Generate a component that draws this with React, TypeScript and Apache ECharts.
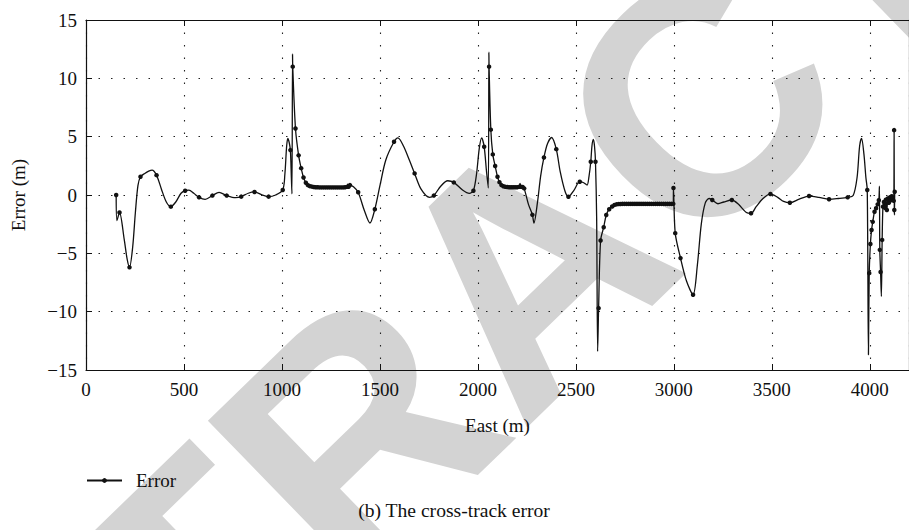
import React, { useEffect, useRef } from "react";
import * as echarts from "echarts";

const xTicks = [0, 500, 1000, 1500, 2000, 2500, 3000, 3500, 4000];
const yTicks = [-15, -10, -5, 0, 5, 10, 15];
const seriesName = "Error";
const xAxisTitle = "East (m)";
const yAxisTitle = "Error (m)";
const caption = "(b) The cross-track error";
const watermark = "RETRACTED";

// East position (m)
const east = [
  154, 158, 171, 195, 210, 222, 238, 252, 265, 278, 300, 320, 337, 360, 385, 410, 433, 458, 485, 506,
  525, 550, 577, 608, 645, 679, 718, 763, 792, 828, 860, 898, 932, 968, 1004, 1015, 1024, 1030, 1037, 1043,
  1048, 1051, 1054, 1055, 1069, 1085, 1098, 1110, 1122, 1132, 1142, 1152, 1162, 1172, 1182, 1192, 1202, 1212, 1222, 1232,
  1242, 1252, 1262, 1272, 1282, 1292, 1302, 1312, 1322, 1332, 1336, 1340, 1347, 1365, 1389, 1420, 1449, 1474, 1500, 1530,
  1572, 1592, 1620, 1650, 1677, 1710, 1753, 1775, 1810, 1846, 1877, 1920, 1956, 1977, 1993, 2007, 2019, 2032, 2044, 2053,
  2056, 2057, 2066, 2076, 2088, 2100, 2110, 2120, 2130, 2140, 2150, 2160, 2170, 2180, 2190, 2200, 2210, 2215, 2220, 2228,
  2236, 2258, 2278, 2286, 2305, 2320, 2337, 2355, 2376, 2400, 2420, 2445, 2462, 2490, 2520, 2540, 2557, 2567, 2576, 2582,
  2589, 2595, 2600, 2606, 2611, 2616, 2626, 2642, 2655, 2670, 2685, 2697, 2707, 2717, 2727, 2737, 2747, 2757, 2767, 2777,
  2787, 2797, 2807, 2817, 2827, 2837, 2847, 2857, 2867, 2877, 2887, 2897, 2907, 2917, 2927, 2937, 2947, 2957, 2967, 2977,
  2987, 2997, 2998, 3007, 3034, 3065, 3098, 3120, 3140, 3160, 3180, 3196, 3225, 3255, 3296, 3330, 3370, 3394, 3420, 3455,
  3493, 3530, 3560, 3592, 3640, 3690, 3740, 3792, 3840, 3887, 3915, 3935, 3948, 3958, 3970, 3980, 3987, 3993, 3997, 4003,
  4009, 4015, 4024, 4032, 4040, 4046, 4049, 4051, 4055, 4059, 4063, 4067, 4072, 4077, 4082, 4087, 4092, 4097, 4102, 4107,
  4112, 4117, 4122, 4124, 4125, 4126, 4127,
];

// Cross-track error (m)
const error = [
  0.0, -2.2, -1.5, -3.8, -5.5, -6.2, -4.5, -1.5, 0.8, 1.56, 1.85, 2.05, 2.14, 1.7, 0.5, -0.6, -1.0, -0.6, 0.15, 0.37,
  0.42, 0.15, -0.2, -0.37, -0.05, 0.23, -0.05, -0.23, -0.14, 0.15, 0.26, 0.02, -0.14, 0.0, 0.43, 1.8, 4.2, 4.85, 4.5, 3.85,
  1.5, 0.1, 12.1, 11.0, 5.7, 3.4, 2.3, 1.5, 1.05, 0.85, 0.76, 0.72, 0.69, 0.67, 0.66, 0.65, 0.65, 0.65, 0.65, 0.65,
  0.65, 0.65, 0.65, 0.65, 0.65, 0.65, 0.65, 0.65, 0.66, 0.7, 0.92, 0.7, 0.85, 0.7, 0.23, -1.3, -2.4, -1.22, 0.8, 3.0,
  4.56, 4.9, 4.2, 3.0, 1.85, 0.5, -0.2, -0.05, 0.75, 1.22, 1.08, 0.45, 0.14, 0.37, 1.8, 4.0, 4.9, 4.13, 2.0, 0.6,
  12.25, 11.0, 5.6, 3.48, 2.48, 1.56, 1.1, 0.85, 0.75, 0.7, 0.68, 0.67, 0.66, 0.66, 0.66, 0.66, 0.7, 1.0, 0.7, 0.68,
  0.57, -0.8, -1.7, -2.4, -0.5, 1.6, 3.22, 4.4, 4.93, 3.93, 2.0, 0.3, -0.15, 0.4, 1.14, 1.05, 0.85, 1.6, 2.85, 4.2,
  4.76, 4.2, 2.85, -2.0, -13.4, -9.7, -3.9, -2.76, -1.71, -1.22, -0.98, -0.85, -0.8, -0.78, -0.77, -0.76, -0.76, -0.76, -0.76, -0.76,
  -0.76, -0.76, -0.76, -0.76, -0.76, -0.76, -0.76, -0.76, -0.76, -0.76, -0.76, -0.76, -0.76, -0.76, -0.76, -0.76, -0.76, -0.76, -0.76, -0.76,
  -0.76, -0.76, 0.6, -3.27, -5.41, -7.4, -8.55, -6.0, -2.5, -0.7, -0.3, -0.43, -0.75, -0.6, -0.43, -0.8, -1.5, -1.57, -1.0, -0.3,
  0.09, -0.2, -0.55, -0.66, -0.35, -0.09, -0.2, -0.37, -0.3, -0.2, -0.05, 1.5, 4.2, 4.85, 3.5, 1.5, 0.43, -13.7, -6.7, -4.2,
  -3.0, -2.3, -1.43, -1.14, -0.8, -0.45, 0.75, -4.7, -6.6, -8.7, -3.85, -1.0, -0.6, -1.1, -0.4, -1.28, -0.3, -0.66, -0.2, -0.45,
  -0.1, -0.3, -0.5, 5.56, -1.28, -1.7, 0.28,
];

// 1 = a marker is drawn at this sample
const marked = [
  1, 0, 1, 0, 0, 1, 0, 0, 0, 1, 0, 0, 0, 1, 0, 0, 1, 0, 0, 1,
  0, 0, 1, 0, 1, 0, 1, 0, 1, 0, 1, 0, 1, 0, 1, 0, 0, 0, 0, 1,
  0, 0, 0, 1, 1, 1, 1, 1, 1, 1, 1, 1, 1, 1, 1, 1, 1, 1, 1, 1,
  1, 1, 1, 1, 1, 1, 1, 1, 1, 1, 0, 1, 1, 0, 1, 0, 0, 1, 0, 0,
  1, 0, 0, 0, 1, 0, 0, 1, 0, 0, 1, 0, 0, 1, 0, 0, 0, 1, 0, 0,
  0, 1, 1, 1, 1, 1, 1, 1, 1, 1, 1, 1, 1, 1, 1, 1, 1, 0, 1, 1,
  1, 0, 1, 0, 0, 0, 1, 0, 0, 1, 0, 0, 1, 0, 1, 0, 0, 0, 1, 0,
  0, 0, 1, 0, 0, 1, 1, 1, 1, 1, 1, 1, 1, 1, 1, 1, 1, 1, 1, 1,
  1, 1, 1, 1, 1, 1, 1, 1, 1, 1, 1, 1, 1, 1, 1, 1, 1, 1, 1, 1,
  1, 1, 1, 1, 1, 0, 1, 0, 0, 0, 0, 1, 0, 0, 1, 0, 0, 1, 0, 0,
  1, 0, 0, 1, 0, 1, 0, 1, 0, 1, 0, 0, 0, 0, 0, 0, 1, 0, 1, 1,
  1, 1, 1, 1, 1, 1, 0, 1, 1, 0, 1, 1, 1, 1, 1, 1, 1, 1, 1, 1,
  1, 1, 1, 1, 1, 0, 1,
];

const SERIF = "'Liberation Serif', 'DejaVu Serif', serif";

export default function App() {
  const ref = useRef<HTMLDivElement>(null);

  useEffect(() => {
    if (!ref.current) return;
    const chart = echarts.init(ref.current, undefined, { renderer: "svg" });
    const data = east.map((x, i) =>
      marked[i] ? [x, error[i]] : { value: [x, error[i]], symbol: "none" }
    );
    const minus = (v: number) => (v < 0 ? "\u2212" + Math.abs(v) : String(v));
    const gridLine = { show: true, lineStyle: { color: "#222", width: 1.1, type: [1.5, 11] as any } };

    chart.setOption({
      animation: false,
      backgroundColor: "#fff",
      textStyle: { fontFamily: SERIF },
      graphic: {
        elements: [
          {
            type: "text",
            z: -100,
            x: 527,
            y: 268,
            rotation: 0.77,
            silent: true,
            style: {
              text: watermark,
              fontSize: 330,
              fontWeight: "bold",
              fontFamily: "'Liberation Sans', Arial, sans-serif",
              fill: "#d3d3d3",
              align: "center",
              verticalAlign: "middle",
            },
          },
          {
            type: "text",
            x: 454,
            y: 510,
            style: {
              text: caption,
              fontSize: 19.6,
              fontFamily: SERIF,
              fill: "#111",
              align: "center",
              verticalAlign: "middle",
            },
          },
        ],
      },
      legend: {
        data: [seriesName],
        left: 86,
        top: 471,
        padding: 0,
        itemWidth: 35,
        itemHeight: 6,
        textStyle: { fontFamily: SERIF, fontSize: 19, color: "#111", padding: [0, 0, 0, 9] },
      },
      grid: { left: 86, top: 20, width: 827, height: 350, containLabel: false },
      xAxis: [
        {
          type: "value",
          min: 0,
          max: 4200,
          interval: 500,
          name: xAxisTitle,
          nameLocation: "middle",
          nameGap: 46,
          nameTextStyle: { fontFamily: SERIF, fontSize: 19, color: "#111" },
          axisLine: { show: true, onZero: false, lineStyle: { color: "#111", width: 1.2 } },
          axisTick: { show: true, inside: true, length: 6, lineStyle: { color: "#111" } },
          axisLabel: {
            fontFamily: SERIF,
            fontSize: 19,
            color: "#111",
            margin: 10,
            showMaxLabel: false,
            formatter: (v: number) => (xTicks.includes(v) ? String(v) : ""),
          },
          splitLine: gridLine,
        },
        {
          type: "value",
          position: "top",
          min: 0,
          max: 4200,
          interval: 500,
          axisLine: { show: true, onZero: false, lineStyle: { color: "#111", width: 1.2 } },
          axisTick: { show: true, inside: true, length: 6, lineStyle: { color: "#111" } },
          axisLabel: { show: false },
          splitLine: { show: false },
        },
      ],
      yAxis: [
        {
          type: "value",
          min: -15,
          max: 15,
          interval: 5,
          name: yAxisTitle,
          nameLocation: "middle",
          nameGap: 58,
          nameRotate: 90,
          nameTextStyle: { fontFamily: SERIF, fontSize: 19, color: "#111" },
          axisLine: { show: true, onZero: false, lineStyle: { color: "#111", width: 1.2 } },
          axisTick: { show: true, inside: true, length: 6, lineStyle: { color: "#111" } },
          axisLabel: {
            fontFamily: SERIF,
            fontSize: 19,
            color: "#111",
            margin: 9,
            formatter: (v: number) => (yTicks.includes(v) ? minus(v) : ""),
          },
          splitLine: gridLine,
        },
        {
          type: "value",
          position: "right",
          min: -15,
          max: 15,
          interval: 5,
          axisLine: { show: true, onZero: false, lineStyle: { color: "#111", width: 1.2 } },
          axisTick: { show: false },
          axisLabel: { show: false },
          splitLine: { show: false },
        },
      ],
      series: [
        {
          name: seriesName,
          type: "line",
          xAxisIndex: 0,
          yAxisIndex: 0,
          data,
          smooth: 0.3,
          symbol: "circle",
          symbolSize: 4.5,
          showSymbol: true,
          showAllSymbol: true,
          z: 5,
          lineStyle: { color: "#111", width: 1.3 },
          itemStyle: { color: "#111" },
        },
      ],
    });
    return () => chart.dispose();
  }, []);

  return (
    <div
      ref={ref}
      style={{ position: "absolute", left: 0, top: 0, width: 909, height: 530 }}
    />
  );
}
